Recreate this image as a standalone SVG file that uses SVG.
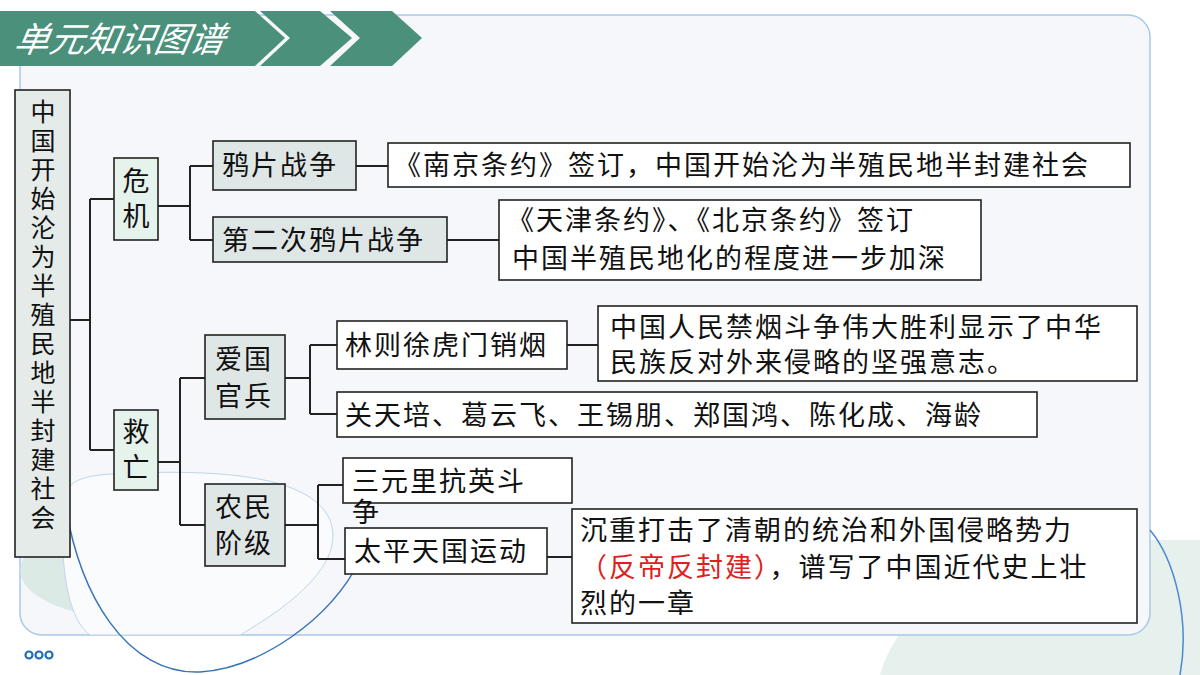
<svg xmlns="http://www.w3.org/2000/svg" width="1200" height="675" viewBox="0 0 1200 675">
<style>
.b{stroke:#222;stroke-width:1.6}
.w{fill:#fff}
.t{font-family:"Noto Sans CJK SC",sans-serif;font-size:27px;letter-spacing:2px;fill:#111}
.r{font-family:"Noto Sans CJK SC",sans-serif;font-size:25px;fill:#111}
.c{fill:none;stroke:#222;stroke-width:2}
</style>
<rect width="1200" height="675" fill="#fff"/>
<path d="M880 675 C900 600 1000 540 1130 540 L1200 540 L1200 675Z" fill="#e6f0ed"/>
<rect x="20" y="15" width="1130" height="620" rx="22" fill="#f5f7fa" stroke="#a9c8ec" stroke-width="1.5"/>
<ellipse cx="140" cy="570" rx="120" ry="50" fill="#d4e6df" opacity="0.8"/>
<path d="M62 520 C60 480 75 475 130 473 C220 470 310 475 330 520 C345 560 300 600 240 635 L90 635 C70 620 62 580 62 520Z" fill="#fafbfc" stroke="#c0d5ee"/>
<path d="M62 480 C75 600 130 675 200 672 C260 668 330 620 360 560" fill="none" stroke="#3a74b8" stroke-width="1.5"/>
<path d="M1150 530 C1175 560 1190 620 1180 675" fill="none" stroke="#4a8ad0" stroke-width="1.5"/>
<g fill="none" stroke="#1f6fb8" stroke-width="2.2"><circle cx="29" cy="655" r="3.5"/><circle cx="39" cy="655" r="3.5"/><circle cx="49" cy="655" r="3.5"/></g>
<g id="header">
<polygon points="0,11 255,11 285,38 255,66 0,66" fill="#4a907a"/>
<polygon points="260,11 320,11 352,38 320,66 260,66 290,38" fill="#4a907a"/>
<polygon points="330,11 392,11 422,38 392,66 330,66 360,38" fill="#4a907a"/>
<text x="14" y="52" font-family="'Noto Sans CJK SC',sans-serif" font-size="35" font-style="italic" fill="#fff" transform="skewX(-10) translate(8,0)">单元知识图谱</text>
</g>
<g id="connectors" class="c">
<path d="M70 320H90M90 199V450M90 199H114M90 450H114"/>
<path d="M158 206H190M190 166V240M190 166H213M190 240H213"/>
<path d="M356 166H388M447 240H499"/>
<path d="M158 462H180M180 378V525M180 378H205M180 525H205"/>
<path d="M285 378H310M310 345V414M310 345H337M310 414H337M567 345H598"/>
<path d="M285 525H318M318 485V559M318 485H343M318 559H345M547 557H572"/>
</g>
<g id="root"><rect class="b" fill="#e4ebe8" x="15" y="90" width="55" height="467"/>
<text class="r" text-anchor="middle"><tspan x="43" y="121">中</tspan><tspan x="43" y="150">国</tspan><tspan x="43" y="179">开</tspan><tspan x="43" y="208">始</tspan><tspan x="43" y="237">沦</tspan><tspan x="43" y="266">为</tspan><tspan x="43" y="295">半</tspan><tspan x="43" y="324">殖</tspan><tspan x="43" y="353">民</tspan><tspan x="43" y="382">地</tspan><tspan x="43" y="411">半</tspan><tspan x="43" y="440">封</tspan><tspan x="43" y="469">建</tspan><tspan x="43" y="498">社</tspan><tspan x="43" y="527">会</tspan></text></g>
<g id="weiji"><rect class="b" fill="#e6f2ec" x="114" y="158" width="44" height="82"/><text class="t" text-anchor="middle" style="letter-spacing:0"><tspan x="136" y="191">危</tspan><tspan x="136" y="226">机</tspan></text></g>
<g id="jiuwang"><rect class="b" fill="#e6f2ec" x="114" y="410" width="44" height="80"/><text class="t" text-anchor="middle" style="letter-spacing:0"><tspan x="136" y="442">救</tspan><tspan x="136" y="477">亡</tspan></text></g>
<g id="yapian"><rect class="b" fill="#dfe6e6" x="213" y="141" width="143" height="49"/><text class="t" x="222" y="175">鸦片战争</text></g>
<g id="dierci"><rect class="b" fill="#dfe6e6" x="213" y="217" width="234" height="45"/><text class="t" x="222" y="250">第二次鸦片战争</text></g>
<g id="nanjing"><rect class="b w" x="388" y="143" width="742" height="44"/><text class="t" x="394" y="175">《南京条约》签订，中国开始沦为半殖民地半封建社会</text></g>
<g id="tianjin"><rect class="b w" x="499" y="200" width="482" height="80"/><text class="t"><tspan x="507" y="230">《天津条约》、《北京条约》签订</tspan><tspan x="512" y="268">中国半殖民地化的程度进一步加深</tspan></text></g>
<g id="aiguo"><rect class="b" fill="#dfe6e6" x="205" y="335" width="80" height="84"/><text class="t"><tspan x="215" y="369">爱国</tspan><tspan x="215" y="406">官兵</tspan></text></g>
<g id="linzexu"><rect class="b w" x="337" y="321" width="230" height="48"/><text class="t" x="345" y="355">林则徐虎门销烟</text></g>
<g id="jinyan"><rect class="b w" x="598" y="306" width="539" height="75"/><text class="t"><tspan x="610" y="337">中国人民禁烟斗争伟大胜利显示了中华</tspan><tspan x="610" y="372">民族反对外来侵略的坚强意志。</tspan></text></g>
<g id="guantianpei"><rect class="b w" x="337" y="392" width="700" height="45"/><text class="t" x="345" y="425">关天培、葛云飞、王锡朋、郑国鸿、陈化成、海龄</text></g>
<g id="nongmin"><rect class="b" fill="#dfe6e6" x="205" y="484" width="80" height="82"/><text class="t"><tspan x="215" y="517">农民</tspan><tspan x="215" y="553">阶级</tspan></text></g>
<g id="sanyuanli"><rect class="b w" x="343" y="458" width="229" height="45"/><text class="t" x="352" y="491">三元里抗英斗</text><text class="t" x="352" y="522">争</text></g>
<g id="taiping"><rect class="b w" x="345" y="528" width="202" height="46"/><text class="t" x="354" y="561">太平天国运动</text></g>
<g id="chenzhong"><rect class="b w" x="572" y="509" width="565" height="114"/><text class="t"><tspan x="580" y="540">沉重打击了清朝的统治和外国侵略势力</tspan><tspan x="580" y="577"><tspan fill="#e02020">（反帝反封建）</tspan>，谱写了中国近代史上壮</tspan><tspan x="580" y="613">烈的一章</tspan></text></g>
</svg>
